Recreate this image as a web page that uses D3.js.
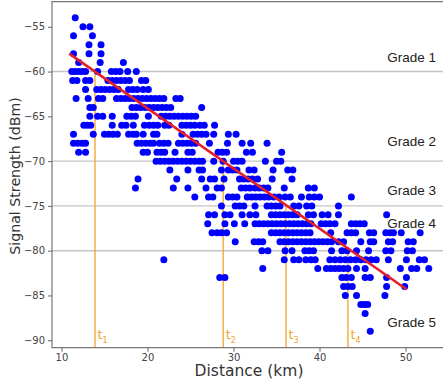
<!DOCTYPE html>
<html>
<head>
<meta charset="utf-8">
<script src="https://cdn.jsdelivr.net/npm/d3@7/dist/d3.min.js"></script>
<style>
  body { margin: 0; background: #fff; }
  svg { display: block; }
</style>
</head>
<body>
<svg id="chart"></svg>
<script>
// signal level of each row of measurements (dBm)
const rowSignal = [-54, -55, -56, -57, -58, -59, -60, -61, -62, -63, -64, -65, -66, -67, -68, -69, -70,
  -71, -72, -73, -74, -75, -76, -77, -78, -79, -80, -81, -82, -83, -84, -85, -86, -87, -89];

// distances (km) measured at each of those levels
const rowDistances = [
  [11.6],
  [12.5, 13.3],
  [11.4, 13.6],
  [13.2, 14.6],
  [11.4, 13.2, 14.6],
  [12.0, 14.5, 17.2],
  [11.2, 11.6, 12.0, 12.4, 12.8, 14.2, 15.8, 16.3, 16.8, 17.7, 18.7],
  [11.3, 11.8, 12.8, 13.3, 15.4, 15.9, 16.4, 16.9, 17.4, 17.9, 19.3, 19.8],
  [12.8, 14.1, 14.6, 15.1, 15.6, 16.1, 16.6, 17.8, 18.3, 18.8, 19.5, 20.1],
  [11.7, 13.1, 14.3, 14.8, 16.4, 16.9, 17.4, 17.9, 18.4, 18.9, 19.4, 19.9, 20.4, 20.9, 21.4, 21.9, 23.3, 23.8],
  [13.3, 13.7, 18.2, 18.7, 19.2, 19.7, 20.2, 20.7, 21.2, 21.7, 22.2, 22.7, 26.3],
  [13.3, 14.2, 14.8, 15.9, 17.6, 18.1, 18.6, 20.1, 21.6, 22.1, 22.6, 23.1, 23.6, 24.1, 24.6, 25.1, 25.6],
  [12.6, 13.0, 13.4, 15.9, 17.0, 17.5, 18.35, 19.65, 20.2, 20.7, 21.2, 22.0, 22.5, 24.0, 24.5, 25.0, 25.5, 26.1, 26.6, 27.8],
  [11.4, 13.7, 15.0, 15.5, 16.0, 16.5, 17.8, 18.3, 18.7, 19.5, 20.7, 21.1, 24.0, 25.3, 25.8, 26.3, 26.8, 27.7, 29.4, 30.3],
  [11.4, 11.9, 12.4, 12.8, 18.8, 19.3, 19.8, 20.3, 20.7, 21.4, 21.9, 22.4, 23.6, 24.1, 24.6, 25.1, 25.6, 27.2, 29.3, 31.0, 32.0, 33.9],
  [12.0, 12.8, 19.5, 20.0, 21.1, 21.6, 22.0, 23.2, 24.7, 25.2, 28.2, 28.7, 29.2, 31.5, 32.2, 35.6],
  [21.0, 21.5, 22.0, 22.5, 23.0, 23.5, 24.0, 24.5, 25.0, 25.5, 26.0, 26.4, 27.7, 28.8, 30.0, 30.5, 31.0, 33.7, 35.0, 35.5],
  [22.6, 24.7, 26.0, 26.4, 28.6, 29.4, 29.9, 30.4, 31.8, 32.4, 34.6, 36.3, 36.9],
  [18.9, 23.4, 26.3, 27.3, 27.8, 28.9, 30.7, 31.2, 31.7, 32.2, 32.8, 34.5, 36.8],
  [18.6, 23.0, 24.7, 26.8, 28.1, 28.6, 30.9, 31.4, 31.9, 32.5, 33.0, 33.5, 34.0, 35.9, 38.7, 39.4],
  [25.5, 27.1, 27.6, 29.4, 29.9, 30.4, 31.6, 32.1, 32.6, 33.1, 33.6, 34.1, 34.7, 35.3, 36.0, 36.6, 37.9, 38.8, 39.4, 40.0, 43.7],
  [28.6, 30.2, 30.7, 31.2, 32.5, 33.9, 34.4, 34.9, 35.4, 37.0, 37.6, 38.5, 39.1, 42.2],
  [27.1, 27.8, 29.0, 29.6, 31.0, 31.9, 32.6, 34.4, 34.9, 35.4, 35.9, 36.4, 36.9, 37.4, 38.7, 39.3, 40.3, 41.0, 42.2, 47.8],
  [27.0, 29.0, 30.1, 31.3, 32.5, 33.0, 33.5, 34.0, 34.5, 35.0, 35.5, 36.0, 36.5, 37.0, 37.5, 38.0, 38.5, 39.0, 40.2, 40.7, 41.2, 41.8, 43.7, 44.2, 44.7, 45.2],
  [27.5, 28.1, 28.6, 29.2, 34.4, 34.9, 35.4, 35.9, 36.4, 36.9, 37.4, 37.9, 38.4, 38.9, 41.3, 43.2, 43.7, 44.2, 45.8, 46.3, 47.7, 48.2, 48.6, 49.5, 51.7],
  [30.2, 32.4, 32.9, 33.4, 35.4, 35.9, 36.4, 36.9, 37.4, 37.9, 38.4, 38.9, 39.4, 39.9, 40.4, 40.9, 41.4, 42.2, 42.8, 44.8, 45.9, 46.3, 48.0, 48.5, 50.3, 50.9],
  [33.3, 34.0, 36.0, 36.8, 38.3, 38.8, 39.3, 41.4, 42.6, 43.2, 44.3, 45.7, 47.7, 48.3, 50.2, 50.8],
  [21.9, 35.9, 37.0, 37.6, 38.4, 39.0, 39.5, 41.2, 41.8, 42.4, 43.0, 43.6, 44.2, 44.8, 45.4, 46.0, 46.6, 48.0, 50.1, 51.6, 52.2],
  [33.4, 39.8, 40.8, 41.3, 41.8, 42.3, 42.8, 43.3, 44.3, 45.3, 49.4, 50.7, 51.3, 52.7],
  [28.4, 29.0, 42.6, 43.1, 43.7, 45.3, 45.9, 47.8, 50.1],
  [42.8, 43.3, 43.8, 47.8, 49.9],
  [43.0, 44.3, 47.6],
  [44.8, 45.2, 45.6],
  [45.3],
  [45.9]
];

// fitted regression line (end points)
const fitDistance = [10.9, 50.1];
const fitSignal = [-58.0, -84.3];

// grade boundaries (dBm) and the distances t1..t4 where the fit crosses them
const gradeBounds = [-60, -70, -75, -80];
const tDistance = [13.9, 28.8, 36.1, 43.3];
const tIndex = ["1", "2", "3", "4"];
const gradeLabels = ["Grade 1", "Grade 2", "Grade 3", "Grade 4", "Grade 5"];

const xTicks = [10, 20, 30, 40, 50];
const yTicks = [-55, -60, -65, -70, -75, -80, -85, -90];

const W = 443, H = 387;
const plotLeft = 52, plotTop = 1.7, plotBottom = 347.7, plotRight = 452;

const svg = d3.select("#chart").attr("width", W).attr("height", H);

const x = d3.scaleLinear().domain([8.9, 55.4]).range([plotLeft, plotRight]);
const y = d3.scaleLinear().domain([-90.83, -52.2]).range([plotBottom, plotTop]);

// grade boundary lines
svg.append("g")
  .selectAll("line")
  .data(gradeBounds)
  .enter()
  .append("line")
  .attr("x1", plotLeft)
  .attr("x2", W)
  .attr("y1", d => y(d))
  .attr("y2", d => y(d))
  .attr("stroke", "#c4c4c4")
  .attr("stroke-width", 1.4);

// vertical threshold lines
svg.append("g")
  .selectAll("line")
  .data(tDistance)
  .enter()
  .append("line")
  .attr("x1", d => x(d))
  .attr("x2", d => x(d))
  .attr("y1", plotBottom)
  .attr("y2", (d, i) => y(gradeBounds[i]))
  .attr("stroke", "#f3a22c")
  .attr("stroke-width", 1.3);

// scatter points
const points = rowSignal.flatMap((s, i) => rowDistances[i].map(d => ({ d: d, s: s })));

svg.append("g")
  .selectAll("circle")
  .data(points)
  .enter()
  .append("circle")
  .attr("cx", p => x(p.d))
  .attr("cy", p => y(p.s))
  .attr("r", 3.5)
  .attr("fill", "#0000ff");

// regression line
svg.append("line")
  .attr("x1", x(fitDistance[0]))
  .attr("y1", y(fitSignal[0]))
  .attr("x2", x(fitDistance[1]))
  .attr("y2", y(fitSignal[1]))
  .attr("stroke", "#e3202a")
  .attr("stroke-width", 2.6);

// t labels
const tText = svg.append("g")
  .selectAll("text")
  .data(tDistance)
  .enter()
  .append("text")
  .attr("x", d => x(d) + 2.5)
  .attr("y", 339)
  .attr("fill", "#f3a22c")
  .style("font-family", "DejaVu Sans")
  .style("font-size", "13px");
tText.append("tspan").text("t");
tText.append("tspan")
  .attr("dy", 4)
  .style("font-size", "8px")
  .text((d, i) => tIndex[i]);

// grade labels (vertical centre, dBm)
const gradeLabelAt = [-58.4, -67.8, -73.2, -76.9, -88.0];
svg.append("g")
  .selectAll("text")
  .data(gradeLabels)
  .enter()
  .append("text")
  .attr("x", 436)
  .attr("y", (d, i) => y(gradeLabelAt[i]))
  .attr("dy", "0.36em")
  .attr("text-anchor", "end")
  .attr("fill", "#222")
  .style("font-family", "Liberation Sans, Arial, sans-serif")
  .style("font-size", "13.5px")
  .text(d => d);

// frame
svg.append("path")
  .attr("d", `M${W},${plotTop}H${plotLeft}V${plotBottom}H${W}`)
  .attr("fill", "none")
  .attr("stroke", "#777")
  .attr("stroke-width", 1.2);

// axes
const yAxis = svg.append("g")
  .attr("transform", `translate(${plotLeft},0)`)
  .call(d3.axisLeft(y).tickValues(yTicks).tickSize(4).tickPadding(3));
const xAxis = svg.append("g")
  .attr("transform", `translate(0,${plotBottom})`)
  .call(d3.axisBottom(x).tickValues(xTicks).tickSize(4).tickPadding(2.5));

[xAxis, yAxis].forEach(g => {
  g.select(".domain").remove();
  g.selectAll("line").attr("stroke", "#666");
  g.selectAll("text")
    .attr("fill", "#444")
    .style("font-family", "DejaVu Sans")
    .style("font-size", "10px");
});

// axis titles
svg.append("text")
  .attr("x", 249)
  .attr("y", 376)
  .attr("text-anchor", "middle")
  .attr("fill", "#333")
  .style("font-family", "DejaVu Sans")
  .style("font-size", "15.5px")
  .text("Distance (km)");

svg.append("text")
  .attr("transform", "translate(20,176) rotate(-90)")
  .attr("text-anchor", "middle")
  .attr("fill", "#333")
  .style("font-family", "DejaVu Sans")
  .style("font-size", "14.2px")
  .text("Signal Strength (dBm)");
</script>
</body>
</html>
